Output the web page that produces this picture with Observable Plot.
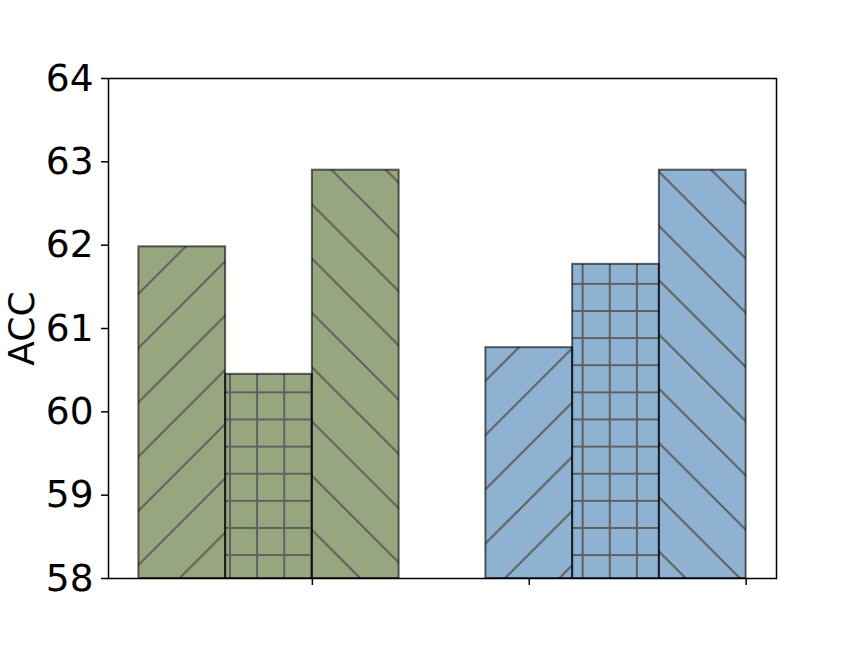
<!DOCTYPE html>
<html><head><meta charset="utf-8">
<script src="https://cdn.jsdelivr.net/npm/d3@7"></script>
<script src="https://cdn.jsdelivr.net/npm/@observablehq/plot@0.6"></script>
<style>body{margin:0;background:#fff}#chart svg{display:block}</style>
</head><body><div id="chart"></div>
<script>
// ---- data ----
const groups = ["A", "A", "A", "B", "B", "B"];
const barStart = [0.2, 0.6, 1.0, 1.8, 2.2, 2.6];
const barWidth = 0.4;
const values = [61.98, 60.45, 62.9, 60.77, 61.77, 62.9];
const hatches = ["slash", "grid", "backslash", "slash", "grid", "backslash"];
const groupNames = ["A", "B"];
const groupColors = ["#98a680", "#8fb2d2"];
const yTicks = [58, 59, 60, 61, 62, 63, 64];
const xTicks = [1, 2, 3];
const yLabel = "ACC";

const data = values.map((v, i) => ({
  group: groups[i], x1: barStart[i], x2: barStart[i] + barWidth, value: v, hatch: hatches[i]
}));

const base = {x1: "x1", x2: "x2", y1: () => 58, y2: "value"};

const plot = Plot.plot({
  width: 863,
  height: 651,
  marginLeft: 108,
  marginRight: 87,
  marginTop: 78,
  marginBottom: 73,
  style: {fontFamily: "DejaVu Sans", fontSize: "36px", color: "#000", background: "#fff", overflow: "visible"},
  x: {type: "linear", domain: [0.06, 3.14]},
  y: {domain: [58, 64]},
  color: {domain: groupNames, range: groupColors},
  marks: [
    Plot.rectY(data, {...base, fill: "group"}),
    Plot.rectY(data.filter(d => d.hatch === "slash"), {...base, fill: "url(#h-slash)"}),
    Plot.rectY(data.filter(d => d.hatch === "grid"), {...base, fill: "url(#h-grid)"}),
    Plot.rectY(data.filter(d => d.hatch === "backslash"), {...base, fill: "url(#h-back)"}),
    Plot.rectY(data, {...base, fill: "none", stroke: "#000", strokeOpacity: 0.6, strokeWidth: 2}),
    Plot.frame({stroke: "#000", strokeWidth: 1.5}),
    Plot.axisY({ticks: yTicks, tickSize: 7, tickPadding: 8, fontSize: 37.5, tickFormat: d3.format("d"), strokeWidth: 1.5, label: null}),
    Plot.axisX({ticks: xTicks, tickSize: 7, tickFormat: () => "", strokeWidth: 1.5, label: null}),
    Plot.text([yLabel], {frameAnchor: "left", dx: -86, rotate: -90, textAnchor: "middle", fontSize: 36, fill: "#000"})
  ]
});

// hatch patterns (anchored in user space like matplotlib's figure-anchored hatches)
const svg = d3.select(plot);
const defs = svg.insert("defs", ":first-child");
const hs = 54.25, hc = "#5f5f5f", hw = 2;
const ps = defs.append("pattern").attr("id", "h-slash").attr("patternUnits", "userSpaceOnUse")
  .attr("width", hs).attr("height", hs).attr("x", 52.5).attr("y", 0);
ps.append("path").attr("d", `M0,${hs}L${hs},0M-2,2L2,-2M${hs-2},${hs+2}L${hs+2},${hs-2}`)
  .attr("stroke", hc).attr("stroke-width", hw).attr("fill", "none");
const pb = defs.append("pattern").attr("id", "h-back").attr("patternUnits", "userSpaceOnUse")
  .attr("width", hs).attr("height", hs).attr("x", 0).attr("y", 1);
pb.append("path").attr("d", `M0,0L${hs},${hs}M${hs-2},-2L${hs+2},2M-2,${hs-2}L2,${hs+2}`)
  .attr("stroke", hc).attr("stroke-width", hw).attr("fill", "none");
const gs = hs / 2;
const pg = defs.append("pattern").attr("id", "h-grid").attr("patternUnits", "userSpaceOnUse")
  .attr("width", gs).attr("height", gs).attr("x", 13 - gs / 2).attr("y", 12.6 - gs / 2);
pg.append("path").attr("d", `M0,${gs/2}H${gs}M${gs/2},0V${gs}`)
  .attr("stroke", hc).attr("stroke-width", hw).attr("fill", "none");

document.getElementById("chart").appendChild(plot);
</script>
</body></html>
